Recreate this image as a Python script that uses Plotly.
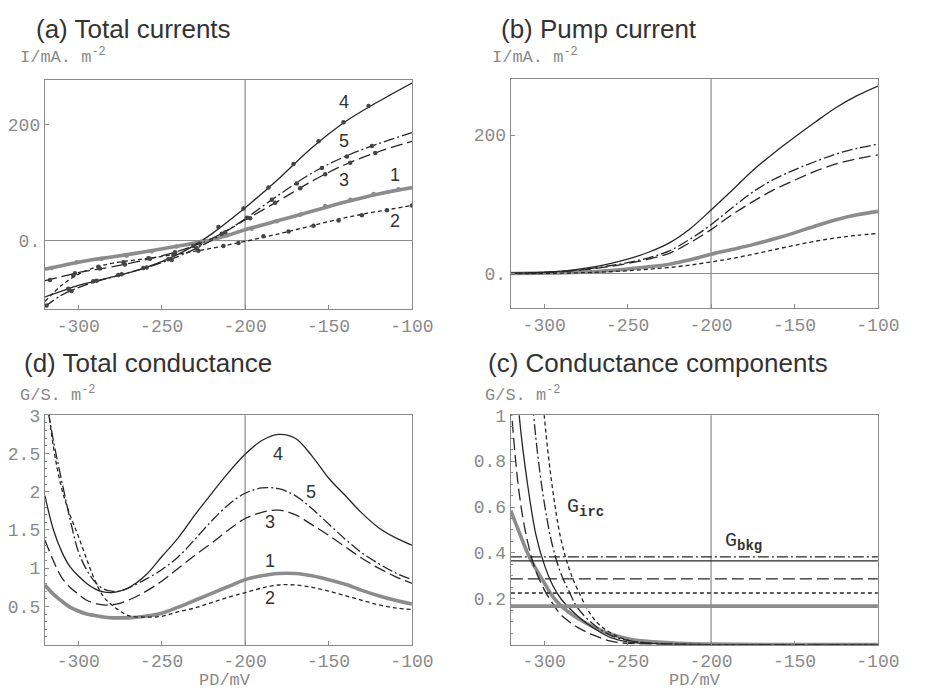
import plotly.graph_objects as go

# ---------------- data ----------------
# (a) total currents, I / mA m^-2
PD_A = [-320, -310, -300, -290, -280, -260, -240, -230, -220, -210, -200, -180, -160, -140, -120, -100]
itot_1 = [-50, -44, -38, -33, -29, -20, -10, -5, 1, 9, 18, 34, 50, 66, 80, 91]
itot_2 = [-106, -78, -59, -47, -40, -32, -24, -19, -14, -8, -2, 11, 25, 39, 50, 60]
itot_3 = [-70, -63, -56, -51, -46, -34, -19, -9, 3, 18, 35, 68, 102, 131, 153, 171]
itot_4 = [-98, -88, -78, -71, -64, -48, -24, -8, 11, 33, 56, 106, 160, 205, 240, 272]
itot_5 = [-115, -95, -82, -72, -64, -48, -28, -15, 0, 18, 37, 78, 116, 145, 167, 186]

# measured points in (a)
meas_x1 = [-316, -301, -286, -271, -256, -241, -226, -211, -196, -181, -167, -152, -137, -123, -108]
meas_y1 = [-48, -38, -32, -27, -19, -11, -2, 8, 20, 33, 44, 59, 70, 80, 88]
meas_x2 = [-303, -288, -273, -258, -243, -228, -213, -204, -189, -174, -159, -144, -130, -115, -100]
meas_y2 = [-61, -46, -38, -31, -25, -18, -10, -5, 7, 15, 25, 34, 43, 52, 60]
meas_x3 = [-317, -302, -287, -272, -257, -242, -227, -212, -197, -182, -167, -152, -137, -122]
meas_y3 = [-69, -57, -49, -42, -32, -21, -6, 14, 38, 65, 90, 114, 134, 151]
meas_x4 = [-306, -291, -276, -261, -246, -231, -216, -201, -186, -171, -156, -141, -126]
meas_y4 = [-84, -71, -60, -48, -33, -10, 23, 55, 91, 132, 171, 204, 232]
meas_x5 = [-319, -304, -289, -274, -259, -244, -229, -214, -199, -184, -169, -154, -139, -124]
meas_y5 = [-113, -88, -70, -59, -47, -34, -14, 11, 39, 70, 98, 125, 145, 163]

# (b) pump current
PD_B = [-320, -300, -287.5, -275, -262.5, -250, -237.5, -225, -212.5, -200, -187.5, -175,
        -162.5, -150, -137.5, -125, -112.5, -100]
ipump_1 = [0.3, 0.8, 1.5, 2.5, 4.2, 6.7, 10, 13.8, 20, 28, 35, 42, 50, 59, 69, 78, 85, 90]
ipump_2 = [0.1, 0.5, 0.9, 1.5, 2.7, 4.3, 6.5, 9, 12.5, 17, 22, 28, 34.5, 41, 47, 51.7, 55.5, 58]
ipump_3 = [0.5, 1.8, 3.5, 6, 9.8, 14.7, 21, 29.5, 45, 63.7, 85, 104, 121, 135, 148, 158.6, 166, 171.5]
ipump_4 = [0.5, 2, 4.2, 8, 13.5, 21, 31, 44.6, 65, 92, 120, 149, 174, 197, 219, 240, 257, 271]
ipump_5 = [0.5, 2, 3.9, 6.7, 10.8, 16, 23, 33, 50, 70.8, 95, 118, 136, 150, 162, 173, 181, 187]

# (d) total conductance, G / S m^-2
PD_D = [-320, -315, -310, -305, -300, -295, -290, -285, -280, -275, -270, -260, -250, -240,
        -230, -220, -210, -200, -190, -180, -170, -160, -150, -140, -130, -120, -110, -100]
gtot_1 = [0.78, 0.66, 0.57, 0.49, 0.44, 0.40, 0.38, 0.36, 0.35, 0.35, 0.35, 0.37, 0.41, 0.49,
          0.58, 0.67, 0.76, 0.85, 0.90, 0.93, 0.93, 0.90, 0.85, 0.79, 0.71, 0.64, 0.58, 0.53]
gtot_2 = [3.5, 2.6, 2.05, 1.7, 1.42, 1.12, 0.84, 0.63, 0.52, 0.44, 0.38, 0.36, 0.37, 0.43,
          0.48, 0.55, 0.62, 0.68, 0.74, 0.78, 0.78, 0.75, 0.70, 0.64, 0.58, 0.52, 0.48, 0.46]
gtot_3 = [1.37, 1.10, 0.88, 0.75, 0.66, 0.58, 0.54, 0.52, 0.52, 0.54, 0.58, 0.69, 0.83, 1.00,
          1.17, 1.33, 1.50, 1.65, 1.73, 1.76, 1.70, 1.57, 1.43, 1.28, 1.13, 1.00, 0.89, 0.80]
gtot_4 = [1.95, 1.51, 1.22, 1.02, 0.90, 0.80, 0.73, 0.69, 0.68, 0.70, 0.74, 0.90, 1.15, 1.40,
          1.70, 1.98, 2.25, 2.49, 2.67, 2.75, 2.70, 2.47, 2.18, 1.95, 1.72, 1.53, 1.40, 1.30]
gtot_5 = [3.3, 2.68, 2.15, 1.65, 1.22, 0.98, 0.82, 0.73, 0.70, 0.70, 0.74, 0.85, 0.98, 1.15,
          1.38, 1.62, 1.83, 1.98, 2.05, 2.04, 1.95, 1.78, 1.58, 1.38, 1.20, 1.06, 0.94, 0.85]

# (c) conductance components
PD_C = [-320, -315, -310, -305, -300, -295, -290, -285, -280, -270, -260, -250, -240, -220, -200, -150, -100]
girc_1 = [0.584, 0.49, 0.40, 0.33, 0.27, 0.21, 0.17, 0.14, 0.115, 0.075, 0.045, 0.026, 0.015, 0.006, 0.002, 0, 0]
girc_2 = [5.0, 3.4, 2.3, 1.52, 1.0, 0.68, 0.46, 0.33, 0.24, 0.11, 0.05, 0.02, 0.008, 0.002, 0, 0, 0]
girc_3 = [1.05, 0.66, 0.45, 0.32, 0.24, 0.18, 0.13, 0.10, 0.075, 0.04, 0.015, 0.005, 0.002, 0, 0, 0, 0]
girc_4 = [1.55, 1.0, 0.70, 0.48, 0.35, 0.26, 0.20, 0.16, 0.125, 0.07, 0.03, 0.012, 0.005, 0.001, 0, 0, 0]
girc_5 = [2.7, 1.9, 1.35, 0.9, 0.62, 0.43, 0.31, 0.23, 0.16, 0.085, 0.04, 0.018, 0.008, 0.002, 0, 0, 0]
PD_BKG = [-320, -100]
gbkg_1 = 0.168
gbkg_2 = 0.225
gbkg_3 = 0.287
gbkg_4 = 0.365
gbkg_5 = 0.383

X_TICKS = [-300, -250, -200, -150, -100]
X_TICKTEXT = ["-300", "-250", "-200", "-150", "-100"]
X_ORIGIN = -200

# ---------------- styles ----------------
BLACK = "#262626"
GRAY = "#8c8c8c"
AXC = "#8a8a8a"
STYLES = {
    1: dict(color=GRAY, width=3.6, dash="solid"),
    2: dict(color=BLACK, width=1.3, dash="4px,3px"),
    3: dict(color=BLACK, width=1.3, dash="12px,5px"),
    4: dict(color=BLACK, width=1.3, dash="solid"),
    5: dict(color=BLACK, width=1.3, dash="11px,3px,2px,3px"),
}
MONO = "Liberation Mono"
SANS = "Liberation Sans"

fig = go.Figure()


def add_line(x, y, k, xa, ya):
    fig.add_trace(go.Scatter(x=x, y=y, mode="lines", xaxis=xa, yaxis=ya,
                             line=dict(shape="spline", smoothing=1.0, **STYLES[k]),
                             showlegend=False, hoverinfo="skip"))


def add_pts(x, y, k):
    fig.add_trace(go.Scatter(x=x, y=y, mode="markers", xaxis="x", yaxis="y",
                             marker=dict(size=4.5, color=GRAY if k == 1 else "#444"),
                             showlegend=False, hoverinfo="skip"))


# (a)
for k, ys in zip([1, 2, 3, 5, 4], [itot_1, itot_2, itot_3, itot_5, itot_4]):
    add_line(PD_A, ys, k, "x", "y")
for k, (mx, my) in zip([1, 2, 3, 4, 5], [(meas_x1, meas_y1), (meas_x2, meas_y2), (meas_x3, meas_y3),
                                        (meas_x4, meas_y4), (meas_x5, meas_y5)]):
    add_pts(mx, my, k)
# (b)
for k, ys in zip([1, 2, 3, 5, 4], [ipump_1, ipump_2, ipump_3, ipump_5, ipump_4]):
    add_line(PD_B, ys, k, "x2", "y2")
# (d)
for k, ys in zip([1, 2, 3, 5, 4], [gtot_1, gtot_2, gtot_3, gtot_5, gtot_4]):
    add_line(PD_D, ys, k, "x3", "y3")
# (c)
for k, ys in zip([1, 2, 3, 5, 4], [girc_1, girc_2, girc_3, girc_5, girc_4]):
    add_line(PD_C, ys, k, "x4", "y4")
for k, v in zip([1, 2, 3, 5, 4], [gbkg_1, gbkg_2, gbkg_3, gbkg_5, gbkg_4]):
    fig.add_trace(go.Scatter(x=PD_BKG, y=[v, v], mode="lines", xaxis="x4", yaxis="y4",
                             line=STYLES[k], showlegend=False, hoverinfo="skip"))

# ---------------- axes ----------------
W, H = 925, 690


def dom_x(a, b):
    return [a / W, b / W]


def dom_y(top, bottom):
    return [1 - bottom / H, 1 - top / H]


axbase = dict(showline=True, linecolor=AXC, linewidth=1.2, mirror=True, showgrid=False,
              ticks="inside", ticklen=4, tickcolor=AXC, tickwidth=1,
              tickfont=dict(family=MONO, size=18, color="#8a8a8a"))

xa = dict(axbase, range=[-320, -100], tickvals=X_TICKS, ticktext=X_TICKTEXT, zeroline=False)

fig.update_layout(
    width=W, height=H, margin=dict(l=0, r=0, t=0, b=0),
    paper_bgcolor="white", plot_bgcolor="white",
    xaxis=dict(xa, domain=dom_x(46, 422), anchor="y"),
    yaxis=dict(axbase, domain=dom_y(72, 304), anchor="x", range=[-119, 277],
               tickvals=[0, 200], ticktext=["0.", "200"],
               zeroline=True, zerolinecolor=AXC, zerolinewidth=1.2),
    xaxis2=dict(xa, domain=dom_x(523.3, 899.3), anchor="y2"),
    yaxis2=dict(axbase, domain=dom_y(71, 303.3), anchor="x2", range=[-50, 281],
                tickvals=[0, 200], ticktext=["0.", "200"],
                zeroline=True, zerolinecolor=AXC, zerolinewidth=1.2),
    xaxis3=dict(xa, domain=dom_x(46, 422), anchor="y3"),
    yaxis3=dict(axbase, domain=dom_y(411.7, 644), anchor="x3", range=[0, 3], zeroline=False,
                tickvals=[0.5, 1, 1.5, 2, 2.5, 3], ticktext=["0.5", "1", "1.5", "2", "2.5", "3"],
                minor=dict(dtick=0.1, ticks="inside", ticklen=2, tickcolor=AXC)),
    xaxis4=dict(xa, domain=dom_x(523.3, 899.3), anchor="y4"),
    yaxis4=dict(axbase, domain=dom_y(411.7, 644), anchor="x4", range=[0, 1], zeroline=False,
                tickvals=[0.2, 0.4, 0.6, 0.8, 1], ticktext=["0.2", "0.4", "0.6", "0.8", "1"],
                minor=dict(dtick=0.05, ticks="inside", ticklen=2, tickcolor=AXC)),
)

# vertical axis line at PD = -200 mV in each panel
for xr, yr in [("x", "y"), ("x2", "y2"), ("x3", "y3"), ("x4", "y4")]:
    fig.add_shape(type="line", xref=xr, yref=yr + " domain", x0=X_ORIGIN, x1=X_ORIGIN, y0=0, y1=1,
                  line=dict(color=AXC, width=1.2), layer="below")

# ---------------- text ----------------
ann = []


def px(xp, yp):
    return xp / W, 1 - yp / H


def add_title(text, xp, yp):
    x, y = px(xp, yp)
    ann.append(dict(text=text, x=x, y=y, xref="paper", yref="paper", xanchor="left", yanchor="middle",
                    showarrow=False, font=dict(family=SANS, size=26, color="#333")))


add_title("(a) Total currents", 35, 20)
add_title("(b) Pump current", 511, 20)
add_title("(d) Total conductance", 23, 359)
add_title("(c) Conductance components", 498, 359)


def add_unit(text, xp, yp):
    x, y = px(xp, yp)
    ann.append(dict(text=text, x=x, y=y, xref="paper", yref="paper", xanchor="left", yanchor="middle",
                    showarrow=False, font=dict(family=MONO, size=17, color="#8a8a8a")))


add_unit("I/mA. m<sup>-2</sup>", 18, 48)
add_unit("I/mA. m<sup>-2</sup>", 42 + 460, 48)
add_unit("G/S. m<sup>-2</sup>", 18, 390)
add_unit("G/S. m<sup>-2</sup>", 35 + 460, 390)

for xp in [230, 711.7]:
    x, y = px(xp, 680)
    ann.append(dict(text="PD/mV", x=x, y=y, xref="paper", yref="paper", xanchor="center", yanchor="middle",
                    showarrow=False, font=dict(family=MONO, size=17, color="#8a8a8a")))


def add_num(text, x, y, xr, yr):
    ann.append(dict(text=text, x=x, y=y, xref=xr, yref=yr, showarrow=False,
                    font=dict(family=SANS, size=18, color="#333")))


LBL_A = [("4", -141, 239), ("5", -140.5, 172), ("3", -140.5, 104), ("1", -110.3, 113), ("2", -110.3, 33)]
for t, x, y in LBL_A:
    add_num(t, x, y, "x", "y")
LBL_D = [("4", -180.2, 2.50), ("5", -160.6, 2.0), ("3", -185, 1.60), ("1", -185, 1.10), ("2", -185, 0.61)]
for t, x, y in LBL_D:
    add_num(t, x, y, "x3", "y3")

ann.append(dict(text="G<sub><b>irc</b></sub>", x=-275, y=0.60, xref="x4", yref="y4", showarrow=False,
                font=dict(family=MONO, size=20, color="#333")))
ann.append(dict(text="G<sub><b>bkg</b></sub>", x=-180.5, y=0.45, xref="x4", yref="y4", showarrow=False,
                font=dict(family=MONO, size=20, color="#333")))

fig.update_layout(annotations=ann)
fig.write_html("out.html")
